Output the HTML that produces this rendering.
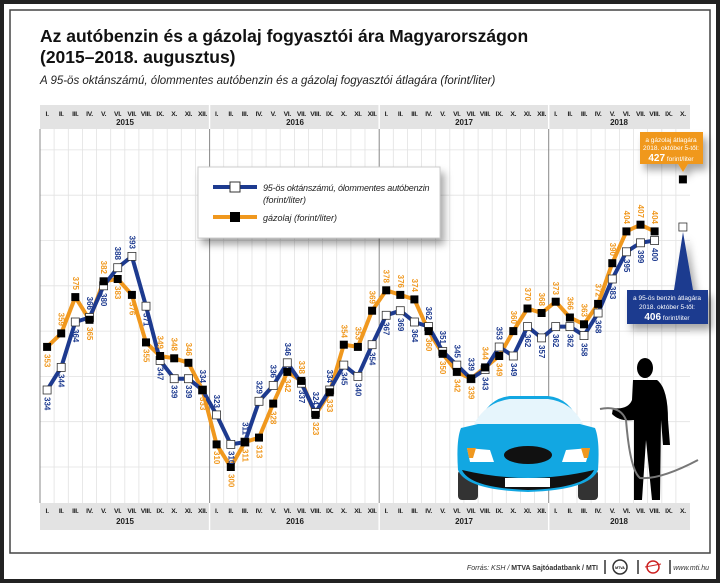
<!DOCTYPE html><html><head><meta charset="utf-8"><style>
html,body{margin:0;padding:0;background:#fff}
svg{display:block;font-family:"Liberation Sans",sans-serif}
.mo{font-size:6.8px;font-weight:bold;fill:#222;text-anchor:middle;letter-spacing:-0.3px}
.yr{font-size:8px;font-weight:bold;fill:#222;text-anchor:middle}
.b{font-size:8px;font-weight:bold;fill:#1d3a8f;dominant-baseline:central}
.o{font-size:8px;font-weight:bold;fill:#f0981e;dominant-baseline:central}
</style></head><body>
<svg width="720" height="583" viewBox="0 0 720 583" xmlns="http://www.w3.org/2000/svg">
<defs>
<filter id="sh" x="-20%" y="-20%" width="150%" height="160%"><feDropShadow dx="4" dy="6" stdDeviation="4" flood-color="#000" flood-opacity="0.35"/></filter>
</defs>
<rect x="0" y="0" width="720" height="583" fill="#fff"/>
<rect x="2" y="2" width="716" height="579" fill="none" stroke="#222" stroke-width="4"/>
<rect x="10" y="10" width="700" height="543" fill="#fff" stroke="#444" stroke-width="1.5"/>
<text x="40" y="42" font-size="17.5" font-weight="bold" fill="#111">Az autóbenzin és a gázolaj fogyasztói ára Magyarországon</text>
<text x="40" y="63" font-size="17.5" font-weight="bold" fill="#111">(2015–2018. augusztus)</text>
<text x="40" y="84" font-size="11.5" font-style="italic" fill="#222">A 95-ös oktánszámú, ólommentes autóbenzin és a gázolaj fogyasztói átlagára (forint/liter)</text>
<rect x="40" y="105" width="650" height="24" fill="#e3e3e3"/>
<rect x="40" y="503" width="650" height="27" fill="#e3e3e3"/>
<g stroke="#e2e2e2" stroke-width="0.8">
<line x1="40" y1="467" x2="690" y2="467"/><line x1="40" y1="421.7" x2="690" y2="421.7"/><line x1="40" y1="376.4" x2="690" y2="376.4"/><line x1="40" y1="331.1" x2="690" y2="331.1"/><line x1="40" y1="285.8" x2="690" y2="285.8"/><line x1="40" y1="240.5" x2="690" y2="240.5"/><line x1="40" y1="195.2" x2="690" y2="195.2"/><line x1="40" y1="149.9" x2="690" y2="149.9"/>
</g>
<g stroke="#e2e2e2" stroke-width="0.8">
<line x1="54.1" y1="129" x2="54.1" y2="503"/><line x1="68.3" y1="129" x2="68.3" y2="503"/><line x1="82.4" y1="129" x2="82.4" y2="503"/><line x1="96.5" y1="129" x2="96.5" y2="503"/><line x1="110.7" y1="129" x2="110.7" y2="503"/><line x1="124.8" y1="129" x2="124.8" y2="503"/><line x1="138.9" y1="129" x2="138.9" y2="503"/><line x1="153.0" y1="129" x2="153.0" y2="503"/><line x1="167.2" y1="129" x2="167.2" y2="503"/><line x1="181.3" y1="129" x2="181.3" y2="503"/><line x1="195.4" y1="129" x2="195.4" y2="503"/>
<line x1="223.7" y1="129" x2="223.7" y2="503"/><line x1="237.8" y1="129" x2="237.8" y2="503"/><line x1="252.0" y1="129" x2="252.0" y2="503"/><line x1="266.1" y1="129" x2="266.1" y2="503"/><line x1="280.2" y1="129" x2="280.2" y2="503"/><line x1="294.4" y1="129" x2="294.4" y2="503"/><line x1="308.5" y1="129" x2="308.5" y2="503"/><line x1="322.6" y1="129" x2="322.6" y2="503"/><line x1="336.7" y1="129" x2="336.7" y2="503"/><line x1="350.9" y1="129" x2="350.9" y2="503"/><line x1="365.0" y1="129" x2="365.0" y2="503"/>
<line x1="393.3" y1="129" x2="393.3" y2="503"/><line x1="407.4" y1="129" x2="407.4" y2="503"/><line x1="421.5" y1="129" x2="421.5" y2="503"/><line x1="435.7" y1="129" x2="435.7" y2="503"/><line x1="449.8" y1="129" x2="449.8" y2="503"/><line x1="463.9" y1="129" x2="463.9" y2="503"/><line x1="478.1" y1="129" x2="478.1" y2="503"/><line x1="492.2" y1="129" x2="492.2" y2="503"/><line x1="506.3" y1="129" x2="506.3" y2="503"/><line x1="520.4" y1="129" x2="520.4" y2="503"/><line x1="534.6" y1="129" x2="534.6" y2="503"/>
<line x1="562.9" y1="129" x2="562.9" y2="503"/><line x1="577.0" y1="129" x2="577.0" y2="503"/><line x1="591.1" y1="129" x2="591.1" y2="503"/><line x1="605.2" y1="129" x2="605.2" y2="503"/><line x1="619.4" y1="129" x2="619.4" y2="503"/><line x1="633.5" y1="129" x2="633.5" y2="503"/><line x1="647.6" y1="129" x2="647.6" y2="503"/><line x1="661.8" y1="129" x2="661.8" y2="503"/><line x1="675.9" y1="129" x2="675.9" y2="503"/>
</g>
<g stroke="#888" stroke-width="1">
<line x1="40" y1="129" x2="40" y2="503"/><line x1="209.6" y1="105" x2="209.6" y2="530"/><line x1="379.2" y1="105" x2="379.2" y2="530"/><line x1="548.7" y1="105" x2="548.7" y2="530"/>
</g>
<line x1="209.6" y1="105" x2="209.6" y2="129" stroke="#fff" stroke-width="1.5"/><line x1="379.2" y1="105" x2="379.2" y2="129" stroke="#fff" stroke-width="1.5"/><line x1="548.7" y1="105" x2="548.7" y2="129" stroke="#fff" stroke-width="1.5"/>
<line x1="209.6" y1="503" x2="209.6" y2="530" stroke="#fff" stroke-width="1.5"/><line x1="379.2" y1="503" x2="379.2" y2="530" stroke="#fff" stroke-width="1.5"/><line x1="548.7" y1="503" x2="548.7" y2="530" stroke="#fff" stroke-width="1.5"/>
<g class="mo" id="mt">
<text x="47.1" y="116">I.</text><text x="61.2" y="116">II.</text><text x="75.3" y="116">III.</text><text x="89.5" y="116">IV.</text><text x="103.6" y="116">V.</text><text x="117.7" y="116">VI.</text><text x="131.9" y="116">VII.</text><text x="146.0" y="116">VIII.</text><text x="160.1" y="116">IX.</text><text x="174.2" y="116">X.</text><text x="188.4" y="116">XI.</text><text x="202.5" y="116">XII.</text>
<text x="216.6" y="116">I.</text><text x="230.8" y="116">II.</text><text x="244.9" y="116">III.</text><text x="259.0" y="116">IV.</text><text x="273.2" y="116">V.</text><text x="287.3" y="116">VI.</text><text x="301.4" y="116">VII.</text><text x="315.5" y="116">VIII.</text><text x="329.7" y="116">IX.</text><text x="343.8" y="116">X.</text><text x="357.9" y="116">XI.</text><text x="372.1" y="116">XII.</text>
<text x="386.2" y="116">I.</text><text x="400.3" y="116">II.</text><text x="414.4" y="116">III.</text><text x="428.6" y="116">IV.</text><text x="442.7" y="116">V.</text><text x="456.8" y="116">VI.</text><text x="471.0" y="116">VII.</text><text x="485.1" y="116">VIII.</text><text x="499.2" y="116">IX.</text><text x="513.3" y="116">X.</text><text x="527.5" y="116">XI.</text><text x="541.6" y="116">XII.</text>
<text x="555.7" y="116">I.</text><text x="569.9" y="116">II.</text><text x="584.0" y="116">III.</text><text x="598.1" y="116">IV.</text><text x="612.3" y="116">V.</text><text x="626.4" y="116">VI.</text><text x="640.5" y="116">VII.</text><text x="654.6" y="116">VIII.</text><text x="668.8" y="116">IX.</text><text x="682.9" y="116">X.</text>
</g>
<use href="#mt" y="397"/>
<g class="yr"><text x="125" y="125">2015</text><text x="295" y="125">2016</text><text x="464" y="125">2017</text><text x="619" y="125">2018</text>
<text x="125" y="524">2015</text><text x="295" y="524">2016</text><text x="464" y="524">2017</text><text x="619" y="524">2018</text></g>
<rect x="198" y="167" width="242" height="71" fill="#fff" stroke="#ccc" filter="url(#sh)"/>
<line x1="213" y1="187" x2="257" y2="187" stroke="#1d3a8f" stroke-width="4"/><rect x="230" y="182" width="10" height="10" fill="#fff" stroke="#333"/>
<line x1="213" y1="217" x2="257" y2="217" stroke="#f0981e" stroke-width="4"/><rect x="230" y="212" width="10" height="10" fill="#000"/>
<text x="263" y="191" font-size="9" font-style="italic" fill="#222" letter-spacing="-0.2">95-ös oktánszámú, ólommentes autóbenzin</text>
<text x="263" y="203" font-size="9" font-style="italic" fill="#222">(forint/liter)</text>
<text x="263" y="221" font-size="9" font-style="italic" fill="#222">gázolaj (forint/liter)</text>
<g>
<rect x="458" y="470" width="20" height="30" rx="4" fill="#333"/><rect x="578" y="470" width="20" height="30" rx="4" fill="#333"/>
<path d="M478 424 Q488 398 510 396 L548 396 Q570 398 580 424 L595 428 Q600 440 598 470 Q590 490 528 492 Q466 490 458 470 Q456 440 461 428 Z" fill="#12a7e2"/>
<path d="M474 424 Q486 402 510 399 L548 399 Q572 402 583 424 Z" fill="#e6f5fc"/>
<path d="M462 470 Q470 488 528 490 Q586 488 594 470 Q560 478 528 478 Q496 478 462 470Z" fill="#111"/>
<ellipse cx="528" cy="455" rx="24" ry="9" fill="#111"/>
<path d="M467 448 L490 450 L494 462 L470 462Z" fill="#fff"/><path d="M590 448 L566 450 L562 462 L586 462Z" fill="#fff"/>
<path d="M467 448 L476 448 L473 458 L469 458Z" fill="#f0981e"/><path d="M590 448 L581 448 L584 458 L588 458Z" fill="#f0981e"/>
<rect x="505" y="478" width="45" height="9" fill="#fff"/>
</g>
<g fill="#000">
<ellipse cx="645" cy="368" rx="8" ry="10"/>
<path d="M633 380 L657 380 Q668 388 668 420 L670 445 L663 445 L661 420 L660 500 L652 500 L646 440 L642 500 L634 500 L634 420 Q620 422 612 414 L613 408 Q628 410 632 400 Z"/>
</g>
<path d="M600 409 Q620 405 626 420 Q630 470 640 478 Q660 480 698 460" fill="none" stroke="#777" stroke-width="2"/>
<polyline fill="none" stroke="#f0981e" stroke-width="4" stroke-linejoin="round" points="47.1,346.9 61.2,333.4 75.3,297.1 89.5,319.8 103.6,281.3 117.7,279 131.9,294.9 146,342.4 160.1,356 174.2,358.3 188.4,362.8 202.5,390 216.6,444.4 230.8,467 244.9,442.1 259,437.6 273.2,403.6 287.3,371.9 301.4,380.9 315.5,414.9 329.7,392.3 343.8,344.7 357.9,346.9 372.1,310.7 386.2,290.3 400.3,294.9 414.4,299.4 428.6,331.1 442.7,353.8 456.8,371.9 471,378.7 485.1,367.4 499.2,356 513.3,331.1 527.5,308.5 541.6,313 555.7,301.7 569.9,317.5 584,324.3 598.1,303.9 612.3,263.2 626.4,231.4 640.5,224.7 654.6,231.4"/>
<polyline fill="none" stroke="#1d3a8f" stroke-width="4" stroke-linejoin="round" points="47.1,390 61.2,367.4 75.3,322 89.5,317.5 103.6,285.8 117.7,267.7 131.9,256.4 146,306.2 160.1,360.5 174.2,378.7 188.4,378.7 202.5,390 216.6,414.9 230.8,444.4 244.9,442.1 259,401.3 273.2,385.5 287.3,362.8 301.4,383.2 315.5,412.6 329.7,390 343.8,365.1 357.9,376.4 372.1,344.7 386.2,315.3 400.3,310.7 414.4,322 428.6,326.6 442.7,351.5 456.8,365.1 471,378.7 485.1,369.6 499.2,347 513.3,356 527.5,326.6 541.6,337.9 555.7,326.6 569.9,326.6 584,335.6 598.1,313 612.3,279 626.4,251.8 640.5,242.8 654.6,240.5"/>
<g fill="#fff" stroke="#333" stroke-width="0.8">
<rect x="43.1" y="386" width="8" height="8"/><rect x="57.2" y="363.4" width="8" height="8"/><rect x="71.3" y="318" width="8" height="8"/><rect x="85.5" y="313.5" width="8" height="8"/><rect x="99.6" y="281.8" width="8" height="8"/><rect x="113.7" y="263.7" width="8" height="8"/><rect x="127.9" y="252.4" width="8" height="8"/><rect x="142" y="302.2" width="8" height="8"/><rect x="156.1" y="356.5" width="8" height="8"/><rect x="170.2" y="374.7" width="8" height="8"/><rect x="184.4" y="374.7" width="8" height="8"/><rect x="198.5" y="386" width="8" height="8"/>
<rect x="212.6" y="410.9" width="8" height="8"/><rect x="226.8" y="440.4" width="8" height="8"/><rect x="240.9" y="438.1" width="8" height="8"/><rect x="255" y="397.3" width="8" height="8"/><rect x="269.2" y="381.5" width="8" height="8"/><rect x="283.3" y="358.8" width="8" height="8"/><rect x="297.4" y="379.2" width="8" height="8"/><rect x="311.5" y="408.6" width="8" height="8"/><rect x="325.7" y="386" width="8" height="8"/><rect x="339.8" y="361.1" width="8" height="8"/><rect x="353.9" y="372.4" width="8" height="8"/><rect x="368.1" y="340.7" width="8" height="8"/>
<rect x="382.2" y="311.3" width="8" height="8"/><rect x="396.3" y="306.7" width="8" height="8"/><rect x="410.4" y="318" width="8" height="8"/><rect x="424.6" y="322.6" width="8" height="8"/><rect x="438.7" y="347.5" width="8" height="8"/><rect x="452.8" y="361.1" width="8" height="8"/><rect x="467" y="374.7" width="8" height="8"/><rect x="481.1" y="365.6" width="8" height="8"/><rect x="495.2" y="343" width="8" height="8"/><rect x="509.3" y="352" width="8" height="8"/><rect x="523.5" y="322.6" width="8" height="8"/><rect x="537.6" y="333.9" width="8" height="8"/>
<rect x="551.7" y="322.6" width="8" height="8"/><rect x="565.9" y="322.6" width="8" height="8"/><rect x="580" y="331.6" width="8" height="8"/><rect x="594.1" y="309" width="8" height="8"/><rect x="608.3" y="275" width="8" height="8"/><rect x="622.4" y="247.8" width="8" height="8"/><rect x="636.5" y="238.8" width="8" height="8"/><rect x="650.6" y="236.5" width="8" height="8"/>
</g>
<g fill="#000">
<rect x="43.1" y="342.9" width="8" height="8"/><rect x="57.2" y="329.4" width="8" height="8"/><rect x="71.3" y="293.1" width="8" height="8"/><rect x="85.5" y="315.8" width="8" height="8"/><rect x="99.6" y="277.3" width="8" height="8"/><rect x="113.7" y="275" width="8" height="8"/><rect x="127.9" y="290.9" width="8" height="8"/><rect x="142" y="338.4" width="8" height="8"/><rect x="156.1" y="352" width="8" height="8"/><rect x="170.2" y="354.3" width="8" height="8"/><rect x="184.4" y="358.8" width="8" height="8"/><rect x="198.5" y="386" width="8" height="8"/>
<rect x="212.6" y="440.4" width="8" height="8"/><rect x="226.8" y="463" width="8" height="8"/><rect x="240.9" y="438.1" width="8" height="8"/><rect x="255" y="433.6" width="8" height="8"/><rect x="269.2" y="399.6" width="8" height="8"/><rect x="283.3" y="367.9" width="8" height="8"/><rect x="297.4" y="376.9" width="8" height="8"/><rect x="311.5" y="410.9" width="8" height="8"/><rect x="325.7" y="388.3" width="8" height="8"/><rect x="339.8" y="340.7" width="8" height="8"/><rect x="353.9" y="342.9" width="8" height="8"/><rect x="368.1" y="306.7" width="8" height="8"/>
<rect x="382.2" y="286.3" width="8" height="8"/><rect x="396.3" y="290.9" width="8" height="8"/><rect x="410.4" y="295.4" width="8" height="8"/><rect x="424.6" y="327.1" width="8" height="8"/><rect x="438.7" y="349.8" width="8" height="8"/><rect x="452.8" y="367.9" width="8" height="8"/><rect x="467" y="374.7" width="8" height="8"/><rect x="481.1" y="363.4" width="8" height="8"/><rect x="495.2" y="352" width="8" height="8"/><rect x="509.3" y="327.1" width="8" height="8"/><rect x="523.5" y="304.5" width="8" height="8"/><rect x="537.6" y="309" width="8" height="8"/>
<rect x="551.7" y="297.7" width="8" height="8"/><rect x="565.9" y="313.5" width="8" height="8"/><rect x="580" y="320.3" width="8" height="8"/><rect x="594.1" y="299.9" width="8" height="8"/><rect x="608.3" y="259.2" width="8" height="8"/><rect x="622.4" y="227.4" width="8" height="8"/><rect x="636.5" y="220.7" width="8" height="8"/><rect x="650.6" y="227.4" width="8" height="8"/>
<rect x="678.9" y="175.4" width="8" height="8"/>
</g>
<rect x="678.9" y="223" width="8" height="8" fill="#fff" stroke="#333" stroke-width="0.8"/>
<g class="b">
<text transform="translate(47.1,397) rotate(90)">334</text>
<text transform="translate(61.2,374) rotate(90)">344</text>
<text transform="translate(75.3,329) rotate(90)">364</text>
<text transform="translate(89.5,310) rotate(90)" text-anchor="end">366</text>
<text transform="translate(103.6,293) rotate(90)">380</text>
<text transform="translate(117.7,260) rotate(90)" text-anchor="end">388</text>
<text transform="translate(131.9,249) rotate(90)" text-anchor="end">393</text>
<text transform="translate(146,313) rotate(90)">371</text>
<text transform="translate(160.1,367) rotate(90)">347</text>
<text transform="translate(174.2,385) rotate(90)">339</text>
<text transform="translate(188.4,385) rotate(90)">339</text>
<text transform="translate(202.5,383) rotate(90)" text-anchor="end">334</text>
<text transform="translate(216.6,408) rotate(90)" text-anchor="end">323</text>
<text transform="translate(230.8,451) rotate(90)">310</text>
<text transform="translate(244.9,435) rotate(90)" text-anchor="end">311</text>
<text transform="translate(259,394) rotate(90)" text-anchor="end">329</text>
<text transform="translate(273.2,378) rotate(90)" text-anchor="end">336</text>
<text transform="translate(287.3,356) rotate(90)" text-anchor="end">346</text>
<text transform="translate(301.4,390) rotate(90)">337</text>
<text transform="translate(315.5,405) rotate(90)" text-anchor="end">324</text>
<text transform="translate(329.7,383) rotate(90)" text-anchor="end">334</text>
<text transform="translate(343.8,372) rotate(90)">345</text>
<text transform="translate(357.9,383) rotate(90)">340</text>
<text transform="translate(372.1,352) rotate(90)">354</text>
<text transform="translate(386.2,322) rotate(90)">367</text>
<text transform="translate(400.3,318) rotate(90)">369</text>
<text transform="translate(414.4,329) rotate(90)">364</text>
<text transform="translate(428.6,320) rotate(90)" text-anchor="end">362</text>
<text transform="translate(442.7,344) rotate(90)" text-anchor="end">351</text>
<text transform="translate(456.8,358) rotate(90)" text-anchor="end">345</text>
<text transform="translate(471,371) rotate(90)" text-anchor="end">339</text>
<text transform="translate(485.1,377) rotate(90)">343</text>
<text transform="translate(499.2,340) rotate(90)" text-anchor="end">353</text>
<text transform="translate(513.3,363) rotate(90)">349</text>
<text transform="translate(527.5,334) rotate(90)">362</text>
<text transform="translate(541.6,345) rotate(90)">357</text>
<text transform="translate(555.7,334) rotate(90)">362</text>
<text transform="translate(569.9,334) rotate(90)">362</text>
<text transform="translate(584,343) rotate(90)">358</text>
<text transform="translate(598.1,320) rotate(90)">368</text>
<text transform="translate(612.3,286) rotate(90)">383</text>
<text transform="translate(626.4,259) rotate(90)">395</text>
<text transform="translate(640.5,250) rotate(90)">399</text>
<text transform="translate(654.6,248) rotate(90)">400</text>
</g>
<g class="o">
<text transform="translate(47.1,354) rotate(90)">353</text>
<text transform="translate(61.2,326) rotate(90)" text-anchor="end">359</text>
<text transform="translate(75.3,290) rotate(90)" text-anchor="end">375</text>
<text transform="translate(89.5,327) rotate(90)">365</text>
<text transform="translate(103.6,274) rotate(90)" text-anchor="end">382</text>
<text transform="translate(117.7,286) rotate(90)">383</text>
<text transform="translate(131.9,302) rotate(90)">376</text>
<text transform="translate(146,349) rotate(90)">355</text>
<text transform="translate(160.1,349) rotate(90)" text-anchor="end">349</text>
<text transform="translate(174.2,351) rotate(90)" text-anchor="end">348</text>
<text transform="translate(188.4,356) rotate(90)" text-anchor="end">346</text>
<text transform="translate(202.5,397) rotate(90)">333</text>
<text transform="translate(216.6,451) rotate(90)">310</text>
<text transform="translate(230.8,474) rotate(90)">300</text>
<text transform="translate(244.9,449) rotate(90)">311</text>
<text transform="translate(259,445) rotate(90)">313</text>
<text transform="translate(273.2,411) rotate(90)">328</text>
<text transform="translate(287.3,379) rotate(90)">342</text>
<text transform="translate(301.4,374) rotate(90)" text-anchor="end">338</text>
<text transform="translate(315.5,422) rotate(90)">323</text>
<text transform="translate(329.7,399) rotate(90)">333</text>
<text transform="translate(343.8,338) rotate(90)" text-anchor="end">354</text>
<text transform="translate(357.9,340) rotate(90)" text-anchor="end">353</text>
<text transform="translate(372.1,304) rotate(90)" text-anchor="end">369</text>
<text transform="translate(386.2,283) rotate(90)" text-anchor="end">378</text>
<text transform="translate(400.3,288) rotate(90)" text-anchor="end">376</text>
<text transform="translate(414.4,292) rotate(90)" text-anchor="end">374</text>
<text transform="translate(428.6,338) rotate(90)">360</text>
<text transform="translate(442.7,361) rotate(90)">350</text>
<text transform="translate(456.8,379) rotate(90)">342</text>
<text transform="translate(471,386) rotate(90)">339</text>
<text transform="translate(485.1,360) rotate(90)" text-anchor="end">344</text>
<text transform="translate(499.2,363) rotate(90)">349</text>
<text transform="translate(513.3,324) rotate(90)" text-anchor="end">360</text>
<text transform="translate(527.5,301) rotate(90)" text-anchor="end">370</text>
<text transform="translate(541.6,306) rotate(90)" text-anchor="end">368</text>
<text transform="translate(555.7,295) rotate(90)" text-anchor="end">373</text>
<text transform="translate(569.9,310) rotate(90)" text-anchor="end">366</text>
<text transform="translate(584,317) rotate(90)" text-anchor="end">363</text>
<text transform="translate(598.1,297) rotate(90)" text-anchor="end">372</text>
<text transform="translate(612.3,256) rotate(90)" text-anchor="end">390</text>
<text transform="translate(626.4,224) rotate(90)" text-anchor="end">404</text>
<text transform="translate(640.5,218) rotate(90)" text-anchor="end">407</text>
<text transform="translate(654.6,224) rotate(90)" text-anchor="end">404</text>
</g>
<g filter="url(#sh)">
<path d="M640 132 L703 132 L703 164 L688 164 L683 172 L678 164 L640 164 Z" fill="#f0981e"/>
<path d="M683 232 L693 290 L708 290 L708 324 L627 324 L627 290 L674 290 Z" fill="#1d3a8f"/>
</g>
<g fill="#fff" text-anchor="middle">
<text x="671" y="142" font-size="6.5">a gázolaj átlagára</text>
<text x="671" y="150" font-size="6.5">2018. október 5-től:</text>
<text x="671" y="161" font-size="6.5"><tspan font-size="10" font-weight="bold">427</tspan> forint/liter</text>
<text x="667" y="300" font-size="6.5">a 95-ös benzin átlagára</text>
<text x="667" y="309" font-size="6.5">2018. október 5-től:</text>
<text x="667" y="320" font-size="6.5"><tspan font-size="10" font-weight="bold">406</tspan> forint/liter</text>
</g>
<text x="598" y="570" font-size="7" text-anchor="end" fill="#333"><tspan font-style="italic">Forrás: KSH / </tspan><tspan font-weight="bold">MTVA Sajtóadatbank / MTI</tspan></text>
<line x1="605" y1="560" x2="605" y2="574" stroke="#333" stroke-width="1.5"/>
<circle cx="620" cy="567" r="7" fill="#fff" stroke="#333" stroke-width="1.5"/><text x="620" y="569" font-size="3.5" text-anchor="middle" font-weight="bold">MTVA</text>
<line x1="638" y1="560" x2="638" y2="574" stroke="#333" stroke-width="1.5"/>
<circle cx="653" cy="567" r="6" fill="none" stroke="#c22" stroke-width="1.5"/><line x1="645" y1="567" x2="661" y2="564" stroke="#c22"/>
<line x1="670" y1="560" x2="670" y2="574" stroke="#333" stroke-width="1.5"/>
<text x="709" y="570" font-size="7" font-style="italic" text-anchor="end" fill="#333">www.mti.hu</text>
</svg>
</body></html>
